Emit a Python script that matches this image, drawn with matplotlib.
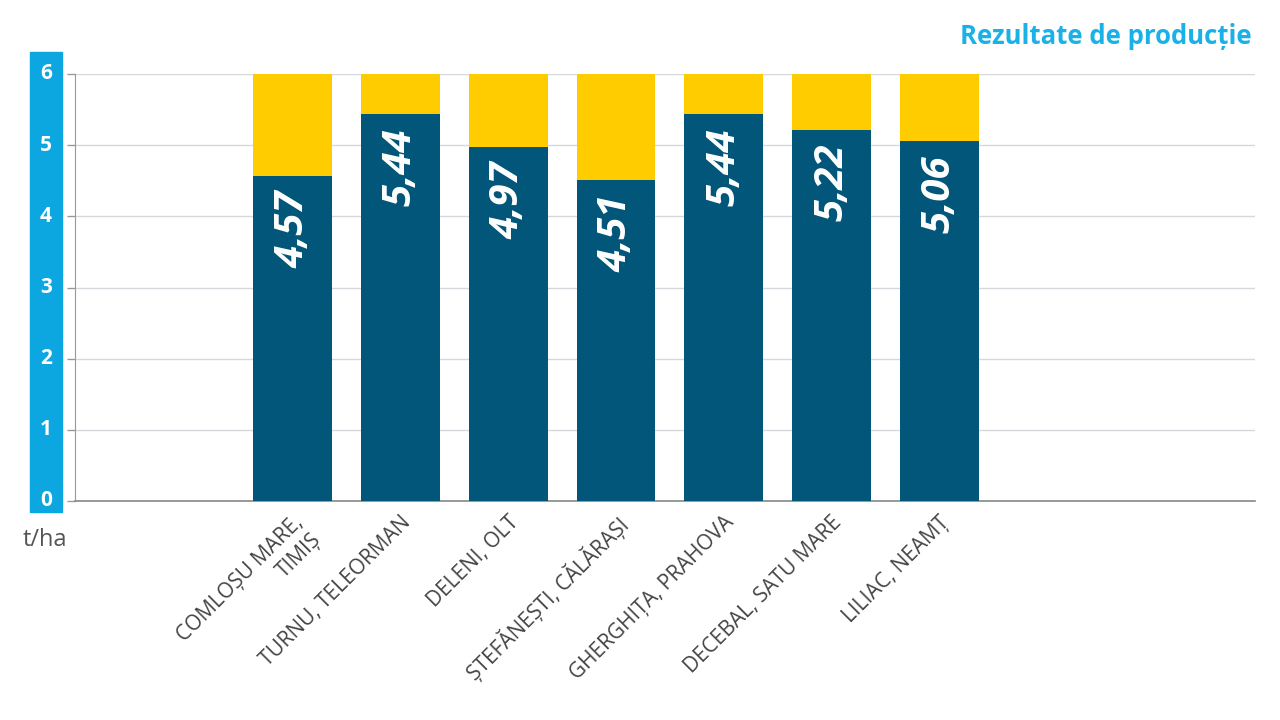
import numpy as np
import matplotlib.pyplot as plt
from matplotlib.patches import Rectangle

# Data
locations = ['COMLOȘU MARE,\nTIMIȘ', 'TURNU, TELEORMAN', 'DELENI, OLT',
             'ȘTEFĂNEȘTI, CĂLĂRAȘI', 'GHERGHIȚA, PRAHOVA',
             'DECEBAL, SATU MARE', 'LILIAC, NEAMȚ']
yields = [4.57, 5.44, 4.97, 4.51, 5.44, 5.22, 5.06]
scale_max = 6
value_labels = ['4,57', '5,44', '4,97', '4,51', '5,44', '5,22', '5,06']
yticks = [0, 1, 2, 3, 4, 5, 6]

plt.rcParams['font.family'] = ['Open Sans', 'DejaVu Sans']

dark_blue = '#01567a'
yellow = '#ffcc00'
light_blue = '#0ca6e1'


def main():
    fig = plt.figure(figsize=(12.8, 7.2), dpi=100)
    ax = fig.add_axes([75 / 1280, 1 - 501 / 720, 1180 / 1280, 427 / 720])

    x = np.arange(len(locations))
    vals = np.array(yields)
    rest = scale_max - vals

    ax.bar(x, vals, width=0.73, color=dark_blue, zorder=3)
    ax.bar(x, rest, bottom=vals, width=0.73, color=yellow, zorder=3)

    for xi, v, lab in zip(x, vals, value_labels):
        ax.text(xi, v - 0.2, lab, rotation=90, ha='center', va='top',
                color='white', fontsize=29, fontweight='bold', fontstyle='italic',
                zorder=4)

    ax.set_xlim(-2.02, 8.93)
    ax.set_ylim(0, scale_max)
    ax.set_yticks(yticks)
    ax.set_yticklabels([])
    ax.tick_params(axis='y', length=6, color='#999999', width=1)
    ax.grid(axis='y', color='#d5d8dc', linewidth=1, zorder=0)

    ax.set_xticks(x)
    ax.set_xticklabels(locations, rotation=45, ha='right', rotation_mode='anchor',
                       fontsize=15, color='#444444', linespacing=1.25)
    ax.tick_params(axis='x', length=0, pad=8)

    for side in ['top', 'right']:
        ax.spines[side].set_visible(False)
    ax.spines['left'].set_color('#999999')
    ax.spines['bottom'].set_color('#888888')
    ax.spines['bottom'].set_linewidth(1.2)

    # blue strip holding the y scale
    strip = Rectangle((30 / 1280, 1 - 512 / 720), 32 / 1280, 460 / 720,
                      transform=fig.transFigure, color=light_blue, zorder=0)
    fig.patches.append(strip)
    for t in yticks:
        yfig = 1 - (501 - t * 71.17) / 720
        fig.text(46 / 1280, yfig, str(t), ha='center', va='center',
                 color='white', fontsize=15, fontweight='bold')

    fig.text(45 / 1280, 1 - 540 / 720, 't/ha', ha='center', va='center',
             color='#555555', fontsize=17)
    fig.text(1252 / 1280, 1 - 36 / 720, 'Rezultate de producție', ha='right',
             va='center', color='#1ab0e8', fontsize=18.5, fontweight='bold')

    plt.savefig('out.png')


if __name__ == '__main__':
    main()
